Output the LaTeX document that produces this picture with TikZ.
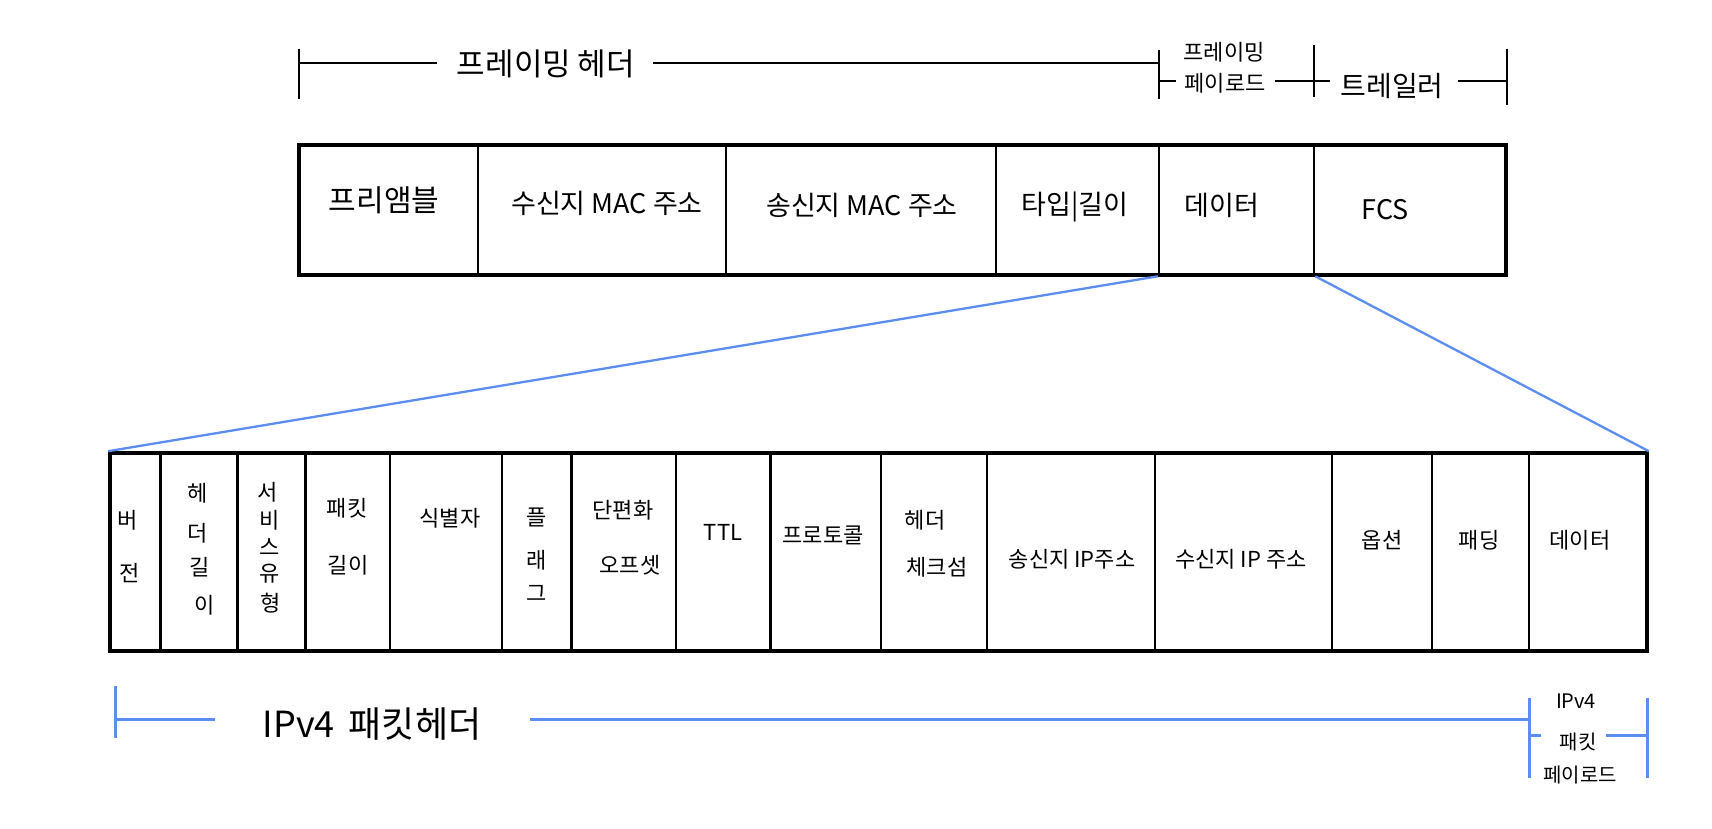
\documentclass[tikz,border=0pt]{standalone}
\usepackage{fontspec}
\setmainfont{Noto Sans CJK KR}
\definecolor{lineblue}{HTML}{5B8EF0}
\newcommand{\mycell}[5]{%
  \node[cell, minimum width={#3-#2}, minimum height={#5-#4}] (#1) at ({(#2+#3)/2},{(#4+#5)/2}) {};}
\begin{document}
\begin{tikzpicture}[x=1pt,y=-1pt,
  cell/.style={draw=black, line width=2.6pt, rectangle, inner sep=0pt},
  frame/.style={draw=black, line width=3.6pt, rectangle, inner sep=0pt},
  lab/.style={inner sep=0pt, anchor=center},
  bigtxt/.style={lab, font=\fontsize{27}{31}\selectfont},
  celltxt/.style={lab, font=\fontsize{22}{25}\selectfont},
  smalltxt/.style={lab, font=\fontsize{20}{23}\selectfont},
  brk/.style={draw=black, line width=2.6pt},
  bbrk/.style={draw=lineblue, line width=3pt},
  conn/.style={draw=lineblue, line width=2.3pt}]
\useasboundingbox (0,0) rectangle (1712,828);

% ---------- top frame ----------
\mycell{c1}{299}{478}{145}{275}
\mycell{c2}{478}{726}{145}{275}
\mycell{c3}{726}{996}{145}{275}
\mycell{c4}{996}{1159}{145}{275}
\mycell{c5}{1159}{1314}{145}{275}
\mycell{c6}{1314}{1506}{145}{275}
\node[frame, minimum width=1207, minimum height=130] (topframe) at (902.5,210) {};

\node[lab, font=\fontsize{30}{34}\selectfont] (t1) at (384,200) {프리앰블};
\node[bigtxt] (t2) at (607,203) {수신지 MAC 주소};
\node[bigtxt] (t3) at (862,205) {송신지 MAC 주소};
\node[bigtxt] (t4) at (1075,207) {타입|길이};
\node[bigtxt] (t5) at (1222,205) {데이터};
\node[bigtxt] (t6) at (1385,210) {FCS};

% ---------- top bracket ----------
\coordinate (k1a) at (299,49);  \coordinate (k1b) at (299,99);
\coordinate (k2a) at (1159,50); \coordinate (k2b) at (1159,99);
\coordinate (k3a) at (1314,45); \coordinate (k3b) at (1314,97);
\coordinate (k4a) at (1507,49); \coordinate (k4b) at (1507,105);
\draw[brk] (k1a) -- (k1b);
\draw[brk] (k2a) -- (k2b);
\draw[brk] (k3a) -- (k3b);
\draw[brk] (k4a) -- (k4b);

\node[lab, font=\fontsize{31}{35}\selectfont] (hdr) at (546,64) {프레이밍 헤더};
\coordinate (h1) at (299,63); \coordinate (h2) at (437,63);
\coordinate (h3) at (653,63); \coordinate (h4) at (1159,63);
\draw[brk] (h1) -- (h2);
\draw[brk] (h3) -- (h4);

\node[lab, font=\fontsize{22}{25}\selectfont] (pl1) at (1224,52) {프레이밍};
\node[lab, font=\fontsize{22}{25}\selectfont] (pl2) at (1225,83) {페이로드};
\coordinate (p1) at (1159,81); \coordinate (p2) at (1176,81);
\coordinate (p3) at (1275,81); \coordinate (p4) at (1330,81);
\draw[brk] (p1) -- (p2);
\draw[brk] (p3) -- (p4);

\node[lab, font=\fontsize{28}{32}\selectfont] (trl) at (1392,86) {트레일러};
\coordinate (r1) at (1458,81); \coordinate (r2) at (1507,81);
\draw[brk] (r1) -- (r2);

% ---------- IPv4 frame ----------
\mycell{b1}{110}{160.5}{453}{651}
\mycell{b2}{160.5}{237.7}{453}{651}
\mycell{b3}{237.7}{305.5}{453}{651}
\mycell{b4}{305.5}{390}{453}{651}
\mycell{b5}{390}{502}{453}{651}
\mycell{b6}{502}{571.7}{453}{651}
\mycell{b7}{571.7}{676}{453}{651}
\mycell{b8}{676}{770.5}{453}{651}
\mycell{b9}{770.5}{881}{453}{651}
\mycell{b10}{881}{987}{453}{651}
\mycell{b11}{987}{1155}{453}{651}
\mycell{b12}{1155}{1332}{453}{651}
\mycell{b13}{1332}{1432}{453}{651}
\mycell{b14}{1432}{1529}{453}{651}
\mycell{b15}{1529}{1647}{453}{651}
\node[frame, minimum width=1537, minimum height=198] (ipframe) at (878.5,552) {};

\node[celltxt] (v1a) at (128,520) {버};
\node[celltxt] (v1b) at (130,573) {전};
\node[celltxt] (v2a) at (198,493) {헤};
\node[celltxt] (v2b) at (198,533) {더};
\node[celltxt] (v2c) at (200,567) {길};
\node[celltxt] (v2d) at (205,605) {이};
\node[celltxt] (v3a) at (268,492) {서};
\node[celltxt] (v3b) at (270,520) {비};
\node[celltxt] (v3c) at (270,547) {스};
\node[celltxt] (v3d) at (270,574) {유};
\node[celltxt] (v3e) at (271,603) {형};
\node[celltxt] (v4a) at (347,508) {패킷};
\node[celltxt] (v4b) at (348,565) {길이};
\node[celltxt] (v5) at (450,518) {식별자};
\node[celltxt] (v6a) at (537,517) {플};
\node[celltxt] (v6b) at (537,560) {래};
\node[celltxt] (v6c) at (537,593) {그};
\node[celltxt] (v7a) at (623,510) {단편화};
\node[celltxt] (v7b) at (630,565) {오프셋};
\node[celltxt] (v8) at (723,532) {TTL};
\node[celltxt] (v9) at (823,535) {프로토콜};
\node[celltxt] (v10a) at (925,520) {헤더};
\node[celltxt] (v10b) at (937,567) {체크섬};
\node[celltxt] (v11) at (1072,559) {송신지 IP주소};
\node[celltxt] (v12) at (1241,559) {수신지 IP 주소};
\node[celltxt] (v13) at (1382,540) {옵션};
\node[celltxt] (v14) at (1479,540) {패딩};
\node[celltxt] (v15) at (1580,540) {데이터};

% ---------- blue connectors ----------
\draw[conn] (c5.south west) -- (ipframe.north west);
\draw[conn] (c5.south east) -- (ipframe.north east);

% ---------- bottom bracket ----------
\coordinate (q1a) at (115,686);  \coordinate (q1b) at (115,738);
\coordinate (q2a) at (1529,698); \coordinate (q2b) at (1529,778);
\coordinate (q3a) at (1647,698); \coordinate (q3b) at (1647,778);
\draw[bbrk] (q1a) -- (q1b);
\draw[bbrk] (q2a) -- (q2b);
\draw[bbrk] (q3a) -- (q3b);

\node[lab, font=\fontsize{36}{40}\selectfont] (iph) at (372,724) {IPv4 \,패킷헤더};
\coordinate (s1) at (115,719); \coordinate (s2) at (215,719);
\coordinate (s3) at (530,719); \coordinate (s4) at (1529,719);
\draw[bbrk] (s1) -- (s2);
\draw[bbrk] (s3) -- (s4);

\node[smalltxt] (ipp1) at (1576,701) {IPv4};
\node[smalltxt] (ipp2) at (1578,742) {패킷};
\node[smalltxt] (ipp3) at (1580,775) {페이로드};
\coordinate (u1) at (1529,735); \coordinate (u2) at (1541,735);
\coordinate (u3) at (1606,735); \coordinate (u4) at (1647,735);
\draw[bbrk] (u1) -- (u2);
\draw[bbrk] (u3) -- (u4);
\end{tikzpicture}
\end{document}
